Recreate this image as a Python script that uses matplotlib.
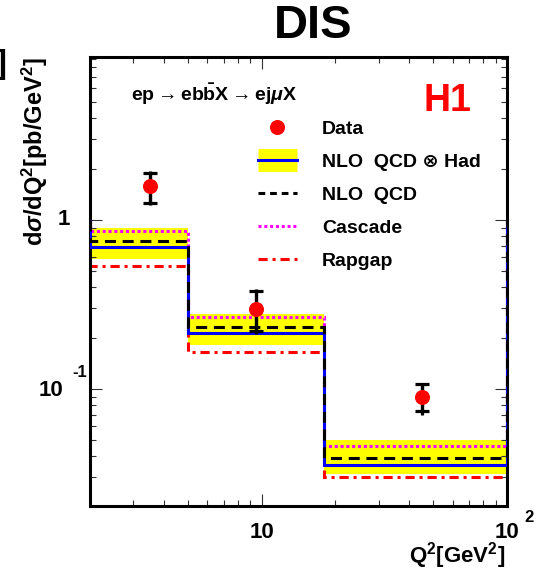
"""Beauty production in DIS: dsigma/dQ^2 compared with NLO QCD and MC models."""

import matplotlib
matplotlib.use("Agg")
import matplotlib.pyplot as plt
from matplotlib.lines import Line2D
from matplotlib.legend_handler import HandlerTuple
from matplotlib.ticker import LogLocator, NullFormatter

plt.rcParams["font.family"] = ["Liberation Sans", "DejaVu Sans"]
plt.rcParams["font.weight"] = "bold"
plt.rcParams["mathtext.fontset"] = "custom"
plt.rcParams["mathtext.rm"] = "Liberation Sans:bold"
plt.rcParams["mathtext.bf"] = "Liberation Sans:bold"
plt.rcParams["mathtext.it"] = "Liberation Sans:italic:bold"
plt.rcParams["mathtext.sf"] = "Liberation Sans"

# Q^2 binning [GeV^2]
q2_edges = [2.0, 5.0, 18.0, 100.0]

# H1 data points: bin centre, cross section [pb/GeV^2], stat and total errors
q2_data = [3.5, 9.5, 45.0]
xsec_data = [1.59, 0.297, 0.090]
stat_err_up = [0.31, 0.083, 0.017]
stat_err_dn = [0.33, 0.077, 0.016]
tot_err_up = [0.37, 0.093, 0.019]
tot_err_dn = [0.37, 0.086, 0.020]

# predictions per bin
nlo_had = [0.695, 0.214, 0.0355]
nlo_had_up = [0.893, 0.277, 0.0499]
nlo_had_dn = [0.588, 0.182, 0.0313]
nlo_parton = [0.751, 0.234, 0.0389]
cascade = [0.865, 0.266, 0.0462]
rapgap = [0.532, 0.166, 0.0300]
hist_floor = 1.0  # histogram outlines close back to this level at the ends

W, H = 544, 575
fig = plt.figure(figsize=(W / 100, H / 100), dpi=100)


def fx(x):
    return x / W


def fy(y):
    return 1 - y / H


ax = fig.add_axes((fx(90), fy(506), fx(507) - fx(90), fy(57) - fy(506)))
ax.set_xscale("log")
ax.set_yscale("log")
ax.set_xlim(2.0, 100.0)
ax.set_ylim(0.0203, 9.2)

LW = 2.2
ax.stairs(nlo_had_up, q2_edges, baseline=nlo_had_dn, fill=True,
          color="#ffff00", lw=0, zorder=1)
ax.stairs(rapgap, q2_edges, baseline=hist_floor, color="#ff0000", lw=LW,
          ls=(0, (3, 1.6, 1, 1.6)), zorder=2)
ax.stairs(cascade, q2_edges, baseline=hist_floor, color="#ff00ff", lw=LW,
          ls=(0, (1, 0.9)), zorder=3)
ax.stairs(nlo_had, q2_edges, baseline=hist_floor, color="#0000ff", lw=LW,
          zorder=4)
ax.stairs(nlo_parton, q2_edges, baseline=hist_floor, color="black", lw=LW,
          ls=(0, (3.6, 2.2)), zorder=5)

# total error as plain line, statistical error marked with caps
ax.errorbar(q2_data, xsec_data, yerr=[tot_err_dn, tot_err_up], fmt="none",
            ecolor="black", elinewidth=2.3, capsize=0, zorder=6)
ax.errorbar(q2_data, xsec_data, yerr=[stat_err_dn, stat_err_up], fmt="none",
            ecolor="black", elinewidth=2.3, capsize=4.7, capthick=2.3, zorder=6)
ax.plot(q2_data, xsec_data, "o", color="#ff0000", ms=9.8, zorder=7)

# frame and ticks
for sp in ax.spines.values():
    sp.set_linewidth(2.2)
ax.tick_params(which="both", direction="in", top=True, right=True,
               labelbottom=False, labelleft=False, color="#333333", width=0.8)
ax.tick_params(which="major", length=8.5)
ax.tick_params(which="minor", length=4.3)
ax.xaxis.set_major_locator(LogLocator(base=10, numticks=10))
ax.yaxis.set_major_locator(LogLocator(base=10, numticks=10))
ax.xaxis.set_minor_locator(LogLocator(base=10, subs=range(2, 10), numticks=20))
ax.yaxis.set_minor_locator(LogLocator(base=10, subs=range(2, 10), numticks=20))
ax.xaxis.set_minor_formatter(NullFormatter())
ax.yaxis.set_minor_formatter(NullFormatter())

# ROOT style tick labels
TICK_FS = 16
lab = dict(xycoords=("data", "axes fraction"), textcoords="offset pixels",
           fontsize=TICK_FS, fontweight="bold")
ax.annotate("10", xy=(10, 0), xytext=(0, -27), ha="center", va="center", **lab)
ax.annotate("10", xy=(100, 0), xytext=(0, -27), ha="center", va="center", **lab)
ax.annotate("2", xy=(100, 0), xytext=(22, -12), ha="center", va="center",
            xycoords=("data", "axes fraction"), textcoords="offset pixels",
            fontsize=12, fontweight="bold")
laby = dict(xycoords=("axes fraction", "data"), textcoords="offset pixels",
            fontweight="bold")
ax.annotate("1", xy=(0, 1), xytext=(-20, 0), ha="right", va="center",
            fontsize=TICK_FS, **laby)
ax.annotate("10", xy=(0, 0.1), xytext=(-39, -2), ha="center", va="center",
            fontsize=TICK_FS, **laby)
ax.annotate("-1", xy=(0, 0.1), xytext=(-10, 16), ha="center", va="center",
            fontsize=12, **laby)

# axis titles
fig.text(fx(505), fy(556), r"$\mathbf{Q^{2}[GeV^{2}]}$", ha="right",
         va="center", fontsize=16)
fig.text(fx(35), fy(57), r"$\mathbf{d}\sigma\mathbf{/dQ^{2}[pb/GeV^{2}]}$",
         rotation=90, ha="center", va="top", fontsize=17)
fig.text(fx(7), fy(64), "]", ha="right", va="center", fontsize=24,
         fontweight="bold")

fig.text(fx(313), fy(26), "DIS", ha="center", va="center", fontsize=34,
         fontweight="bold")
fig.text(fx(447), fy(101), "H1", ha="center", va="center", fontsize=27,
         fontweight="bold", color="#ff0000")
fig.text(fx(131), fy(94),
         r"$\mathbf{ep}\rightarrow\mathbf{eb\bar{b}X}\rightarrow\mathbf{ej}"
         r"\mu\mathbf{X}$",
         ha="left", va="center", fontsize=14)

# legend
h_data = Line2D([], [], ls="none", marker="o", color="#ff0000", ms=9.8)
h_band = (Line2D([], [], color="#ffff00", lw=16.5, solid_capstyle="butt"),
          Line2D([], [], color="#0000ff", lw=LW))
h_nlo = Line2D([], [], color="black", lw=LW, ls=(0, (2.2, 1.6)))
h_cas = Line2D([], [], color="#ff00ff", lw=LW, ls=(0, (1, 0.9)))
h_rap = Line2D([], [], color="#ff0000", lw=LW, ls=(0, (3, 1.6, 1, 1.6)))
leg = ax.legend([h_data, h_band, h_nlo, h_cas, h_rap],
                ["Data", "NLO  QCD \u2297 Had", "NLO  QCD", "Cascade", "Rapgap"],
                handler_map={tuple: HandlerTuple(ndivide=1, pad=0)},
                loc="upper left", bbox_to_anchor=(fx(258), fy(120)),
                bbox_transform=fig.transFigure, frameon=False, fontsize=14,
                handlelength=2.0, handletextpad=1.3, labelspacing=0.8,
                borderpad=0, borderaxespad=0, numpoints=1)
for t in leg.get_texts():
    t.set_fontweight("bold")

fig.savefig("out.png", dpi=100)
